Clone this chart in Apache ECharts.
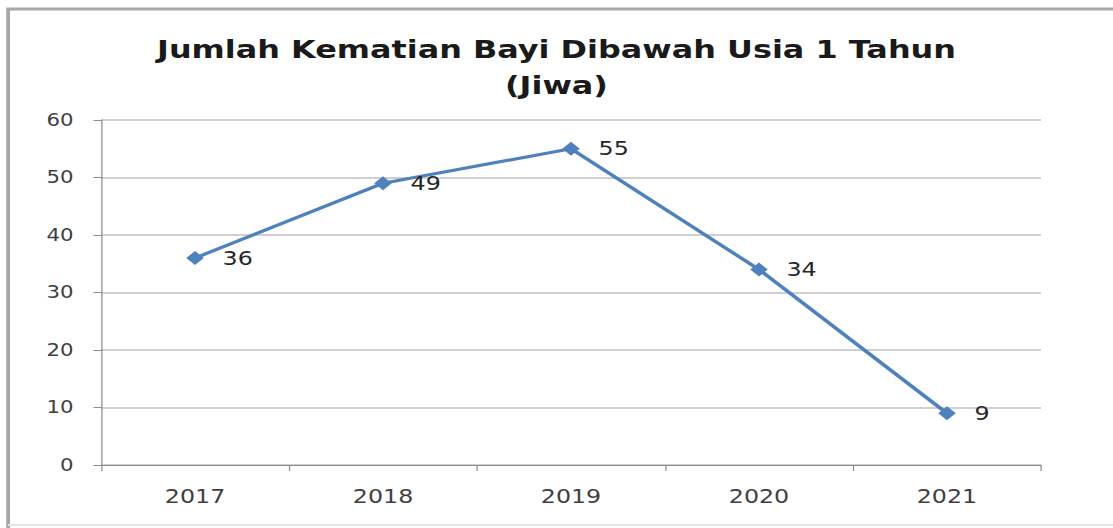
<!DOCTYPE html>
<html><head><meta charset="utf-8">
<script src="https://cdn.jsdelivr.net/npm/echarts@6/dist/echarts.min.js"></script>
<style>
html,body{margin:0;padding:0;background:#fff;overflow:hidden}
#c{width:890px;height:528px;transform:scaleX(1.250562);transform-origin:0 0}
</style>
</head><body><div id="c"></div>
<script>
var categories = ['2017', '2018', '2019', '2020', '2021'];
var values = [36, 49, 55, 34, 9];
var yTicks = [0, 10, 20, 30, 40, 50, 60];

var chart = echarts.init(document.getElementById('c'), null, {renderer: 'svg'});
chart.setOption({
  animation: false,
  graphic: [{
    type: 'polyline', shape: {points: [[900, 9], [6.5, 9], [6.5, 528]]},
    style: {fill: 'none', stroke: '#a6a6a6', lineWidth: 3}
  }, {
    type: 'line', shape: {x1: 6.5, y1: 525, x2: 890, y2: 525},
    style: {stroke: '#e6e6e6', lineWidth: 2}
  }],
  title: {
    text: 'Jumlah Kematian Bayi Dibawah Usia 1 Tahun\n(Jiwa)',
    left: 'center', top: 26,
    textStyle: {fontFamily: 'DejaVu Sans', fontWeight: 'bold', fontSize: 25.5, lineHeight: 36, color: '#1a1a1a'}
  },
  grid: {left: 80.8, right: 57.6, top: 120, bottom: 63},
  xAxis: {
    type: 'category', data: categories, boundaryGap: true,
    axisLine: {lineStyle: {color: '#8c8c8c', width: 1}},
    axisTick: {show: true, length: 6, lineStyle: {color: '#8c8c8c'}},
    axisLabel: {fontFamily: 'DejaVu Sans', fontSize: 19, color: '#404040', margin: 22}
  },
  yAxis: {
    type: 'value', min: yTicks[0], max: yTicks[yTicks.length - 1], interval: 10,
    axisLine: {show: true, lineStyle: {color: '#8c8c8c', width: 1}},
    axisTick: {show: true, length: 6, lineStyle: {color: '#8c8c8c'}},
    splitLine: {lineStyle: {color: '#bfbfbf', width: 1.5}},
    axisLabel: {fontFamily: 'DejaVu Sans', fontSize: 17, color: '#404040', margin: 22}
  },
  series: [{
    type: 'line', data: values,
    symbol: 'diamond', symbolSize: 14,
    lineStyle: {color: '#4f81bd', width: 3.2},
    itemStyle: {color: '#4f81bd'},
    label: {show: true, position: 'right', distance: 15, fontFamily: 'DejaVu Sans', fontSize: 19, color: '#262626'}
  }]
});
</script></body></html>
